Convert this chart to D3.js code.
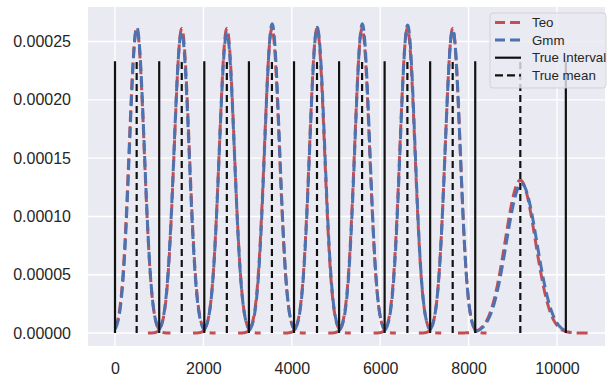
<!DOCTYPE html>
<html>
<head>
<meta charset="utf-8">
<script src="https://cdn.jsdelivr.net/npm/d3@7"></script>
<style>
  html, body { margin: 0; padding: 0; background: #ffffff; }
  svg { display: block; }
  text { font-family: "Liberation Sans", Arial, sans-serif; fill: #262626; }
</style>
</head>
<body>
<svg id="chart" width="612" height="381"></svg>
<script>
// ---- data ----
const intervalEdges = [0, 1000, 2020, 3030, 4050, 5070, 6100, 7130, 8150, 10200];
const trueMeans     = [490, 1510, 2530, 3550, 4570, 5590, 6615, 7640, 9170];
const lineTop       = 0.000233;

// Teo component curves (mean, spread, peak height, drawn x-range)
const teoMean  = [490, 1510, 2530, 3550, 4570, 5590, 6615, 7640, 9170];
const teoSd    = [170, 170, 170, 170, 170, 170, 170, 170, 340];
const teoPeak  = [0.000261, 0.000261, 0.000261, 0.000261, 0.000261, 0.000261, 0.000261, 0.000261, 0.000131];
const teoStart = [0, 745, 1765, 2785, 3805, 4825, 5850, 6875, 7760];
const teoEnd   = [1255, 2275, 3295, 4315, 5335, 6355, 7380, 8405, 10750];

// Gmm component curves
const gmmMean  = [495, 1505, 2530, 3555, 4575, 5595, 6620, 7640, 9200];
const gmmSd    = [168, 170, 170, 168, 170, 168, 168, 170, 345];
const gmmPeak  = [0.000262, 0.000258, 0.000257, 0.000265, 0.000262, 0.000265, 0.000264, 0.000260, 0.000128];
const gmmStart = [0, 990, 2010, 3030, 4060, 5080, 6110, 7130, 8140];
const gmmEnd   = [1000, 2030, 3050, 4070, 5100, 6120, 7140, 8160, 10290];

const xTicks = [0, 2000, 4000, 6000, 8000, 10000];
const yTicks = [0, 0.00005, 0.0001, 0.00015, 0.0002, 0.00025];
const yTickLabels = ["0.00000", "0.00005", "0.00010", "0.00015", "0.00020", "0.00025"];
const legendLabels = ["Teo", "Gmm", "True Interval", "True mean"];

// ---- layout ----
const svg = d3.select("#chart");
const plot = { left: 88, right: 605, top: 7, bottom: 346 };
const x = d3.scaleLinear().domain([-611, 11086]).range([plot.left, plot.right]);
const y = d3.scaleLinear().domain([-0.0000111, 0.0002796]).range([plot.bottom, plot.top]);

const RED = "#C44E52", BLUE = "#4C72B0", BG = "#EAEAF2";

svg.append("rect").attr("x", plot.left).attr("y", plot.top)
  .attr("width", plot.right - plot.left).attr("height", plot.bottom - plot.top)
  .attr("fill", BG);

svg.append("defs").append("clipPath").attr("id", "clip")
  .append("rect").attr("x", plot.left).attr("y", plot.top)
  .attr("width", plot.right - plot.left).attr("height", plot.bottom - plot.top);

// grid
const grid = svg.append("g");
grid.selectAll(".gx").data(xTicks).join("line")
  .attr("x1", d => x(d)).attr("x2", d => x(d))
  .attr("y1", plot.top).attr("y2", plot.bottom)
  .attr("stroke", "#ffffff").attr("stroke-width", 1.4);
grid.selectAll(".gy").data(yTicks).join("line")
  .attr("x1", plot.left).attr("x2", plot.right)
  .attr("y1", d => y(d)).attr("y2", d => y(d))
  .attr("stroke", "#ffffff").attr("stroke-width", 1.4);

// axes labels (via d3 axes, no domain / tick marks)
const xAxis = svg.append("g").attr("transform", `translate(0,${plot.bottom})`)
  .call(d3.axisBottom(x).tickValues(xTicks).tickFormat(d3.format("d")).tickSize(0).tickPadding(17));
const yAxis = svg.append("g").attr("transform", `translate(${plot.left},0)`)
  .call(d3.axisLeft(y).tickValues(yTicks).tickFormat((d, i) => yTickLabels[i]).tickSize(0).tickPadding(17));
[xAxis, yAxis].forEach(a => {
  a.select(".domain").remove();
  a.selectAll("text").attr("font-size", 16).attr("fill", "#262626")
    .attr("font-family", "'Liberation Sans', Arial, sans-serif");
});

// curves
const g = svg.append("g").attr("clip-path", "url(#clip)");
const line = d3.line().x(d => x(d[0])).y(d => y(d[1]));
function comp(mean, sd, peak, lo, hi) {
  const n = 240, pts = [];
  for (let i = 0; i <= n; i++) {
    const xv = lo + (hi - lo) * i / n;
    pts.push([xv, peak * Math.exp(-0.5 * Math.pow((xv - mean) / sd, 2))]);
  }
  return pts;
}
const teoData = teoMean.map((m, i) => comp(m, teoSd[i], teoPeak[i], teoStart[i], teoEnd[i]));
const gmmData = gmmMean.map((m, i) => comp(m, gmmSd[i], gmmPeak[i], gmmStart[i], gmmEnd[i]));

teoData.forEach((pts, i) => {
  g.append("path").attr("d", line(pts)).attr("fill", "none")
    .attr("stroke", RED).attr("stroke-width", 3).attr("stroke-dasharray", "11,5");
  g.append("path").attr("d", line(gmmData[i])).attr("fill", "none")
    .attr("stroke", BLUE).attr("stroke-width", 3).attr("stroke-dasharray", "11,5");
});

// true intervals & means
g.selectAll(".iv").data(intervalEdges).join("line")
  .attr("x1", d => x(d)).attr("x2", d => x(d))
  .attr("y1", y(0)).attr("y2", y(lineTop))
  .attr("stroke", "#111111").attr("stroke-width", 2.2);
g.selectAll(".mn").data(trueMeans).join("line")
  .attr("x1", d => x(d)).attr("x2", d => x(d))
  .attr("y1", y(0)).attr("y2", y(lineTop))
  .attr("stroke", "#111111").attr("stroke-width", 2.2).attr("stroke-dasharray", "7,4");

// legend
const lg = svg.append("g");
lg.append("rect").attr("x", 490).attr("y", 13).attr("width", 116).attr("height", 75)
  .attr("rx", 3).attr("fill", BG).attr("fill-opacity", 0.8)
  .attr("stroke", "#cccccc").attr("stroke-opacity", 0.8).attr("stroke-width", 1);
const legendStyles = [
  { c: RED, w: 3, dash: "10,5" },
  { c: BLUE, w: 3, dash: "10,5" },
  { c: "#111111", w: 2.2, dash: null },
  { c: "#111111", w: 2.2, dash: "8,4" }
];
legendLabels.forEach((lab, i) => {
  const yy = 22.5 + i * 17.6;
  const ln = lg.append("line").attr("x1", 495).attr("x2", 521).attr("y1", yy).attr("y2", yy)
    .attr("stroke", legendStyles[i].c).attr("stroke-width", legendStyles[i].w);
  if (legendStyles[i].dash) ln.attr("stroke-dasharray", legendStyles[i].dash);
  lg.append("text").attr("x", 532).attr("y", yy).attr("dy", "0.36em")
    .attr("font-size", 13.3).text(lab);
});
</script>
</body>
</html>
